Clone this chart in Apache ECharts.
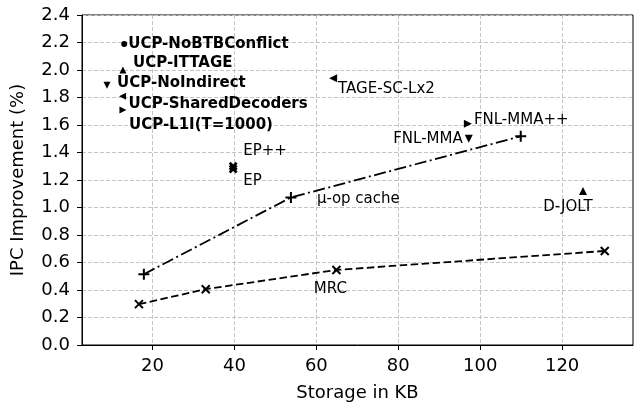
<!DOCTYPE html>
<html>
<head>
<meta charset="utf-8">
<script src="https://cdn.jsdelivr.net/npm/echarts@6/dist/echarts.min.js"></script>
<style>
  html, body { margin: 0; padding: 0; background: #fff; }
  #chart { width: 634px; height: 407px; }
</style>
</head>
<body>
<div id="chart"></div>
<script>
// single design points
const pointNames = ['UCP-NoBTBConflict', 'UCP-ITTAGE', 'UCP-NoIndirect', 'UCP-SharedDecoders', 'UCP-L1I(T=1000)',
  'TAGE-SC-Lx2', 'FNL-MMA++', 'FNL-MMA', 'EP++', 'EP', 'D-JOLT'];
const pointStorage = [13.1, 12.8, 8.9, 12.7, 12.8, 64.1, 97.0, 97.2, 39.7, 39.7, 125.1];
const pointIpc = [2.19, 2.0, 1.89, 1.81, 1.71, 1.94, 1.61, 1.5, 1.3, 1.28, 1.12];

// µ-op cache sweep
const uopStorage = [17.9, 53.8, 109.9];
const uopIpc = [0.515, 1.073, 1.518];

// MRC sweep
const mrcStorage = [16.7, 33.0, 64.9, 130.4];
const mrcIpc = [0.297, 0.406, 0.546, 0.684];

const xTicks = [20, 40, 60, 80, 100, 120];

const FONT = 'DejaVu Sans';

const SYM = {
  dot: 'circle',
  up: 'triangle',
  down: 'path://M0,0L10,0L5,10Z',
  left: 'path://M10,0L10,10L0,5Z',
  right: 'path://M0,0L10,5L0,10Z',
  plus: 'path://M5,0L5,10M0,5L10,5',
  cross: 'path://M0,0L10,10M10,0L0,10',
};

// marker + label placement per point (dx, dy = text anchor offset from marker centre)
const pointStyle = [
  { symbol: SYM.dot, size: 6, dx: 4, dy: 0, align: 'left', bold: true },
  { symbol: SYM.up, size: 7, dx: 10, dy: -7, align: 'left', bold: true },
  { symbol: SYM.down, size: 7, dx: 10, dy: -2, align: 'left', bold: true },
  { symbol: SYM.left, size: 7, dx: 6, dy: 8, align: 'left', bold: true },
  { symbol: SYM.right, size: 7, dx: 6, dy: 15, align: 'left', bold: true },
  { symbol: SYM.left, size: 8, dx: 5, dy: 11, align: 'left' },
  { symbol: SYM.right, size: 8, dx: 6, dy: -4, align: 'left' },
  { symbol: SYM.down, size: 8, dx: -6, dy: 0, align: 'right' },
  { symbol: SYM.cross, size: 7, dx: 10, dy: -15, align: 'left' },
  { symbol: SYM.cross, size: 7, dx: 10, dy: 12, align: 'left' },
  { symbol: SYM.up, size: 8, dx: -15, dy: 16, align: 'center' },
];

const markerSeries = pointNames.map((name, i) => {
  const st = pointStyle[i];
  const isLine = st.symbol === SYM.cross || st.symbol === SYM.plus;
  return {
    name,
    type: 'scatter',
    symbol: st.symbol,
    symbolSize: st.size,
    itemStyle: isLine
      ? { color: 'none', borderColor: '#000', borderWidth: 2.5, opacity: 1 }
      : { color: '#000', borderWidth: 0, opacity: 1 },
    data: [[pointStorage[i], pointIpc[i]]],
    z: 3,
  };
});

const labelSeries = {
  type: 'scatter',
  symbol: 'circle',
  symbolSize: 1,
  itemStyle: { color: 'rgba(0,0,0,0)', opacity: 1 },
  silent: true,
  z: 4,
  data: pointNames.map((name, i) => {
    const st = pointStyle[i];
    return {
      value: [pointStorage[i], pointIpc[i]],
      label: {
        show: true,
        position: 'inside',
        formatter: name,
        align: st.align,
        verticalAlign: 'middle',
        offset: [st.dx, st.dy],
        color: '#000',
        fontFamily: FONT,
        fontSize: 15,
        fontWeight: st.bold ? 'bold' : 'normal',
      },
    };
  }),
};

const lineLabel = (text, dx, dy, align) => ({
  show: true,
  position: 'inside',
  formatter: text,
  align,
  verticalAlign: 'middle',
  offset: [dx, dy],
  color: '#000',
  fontFamily: FONT,
  fontSize: 15,
});

const uopSeries = {
  name: 'µ-op cache',
  type: 'line',
  symbol: SYM.plus,
  symbolSize: 11,
  showSymbol: true,
  itemStyle: { color: 'none', borderColor: '#000', borderWidth: 2 },
  lineStyle: { color: '#000', width: 1.8, type: [12, 3.5, 2, 3.5] },
  data: uopStorage.map((x, i) => i === 1
    ? { value: [x, uopIpc[i]], label: lineLabel('μ-op cache', 26, 2, 'left') }
    : [x, uopIpc[i]]),
  z: 2,
};

const mrcSeries = {
  name: 'MRC',
  type: 'line',
  symbol: SYM.cross,
  symbolSize: 8,
  showSymbol: true,
  itemStyle: { color: 'none', borderColor: '#000', borderWidth: 2 },
  lineStyle: { color: '#000', width: 1.8, type: [7.5, 3.5] },
  data: mrcStorage.map((x, i) => i === 2
    ? { value: [x, mrcIpc[i]], label: lineLabel('MRC', -6, 19, 'center') }
    : [x, mrcIpc[i]]),
  z: 2,
};

const chart = echarts.init(document.getElementById('chart'), null, { renderer: 'canvas' });
chart.setOption({
  animation: false,
  backgroundColor: '#fff',
  grid: {
    left: 82,
    top: 15,
    right: 1,
    bottom: 61,
    show: true,
    borderColor: '#000',
    borderWidth: 1,
  },
  xAxis: {
    type: 'value',
    min: 2.8,
    max: 137.3,
    name: 'Storage in KB',
    nameLocation: 'middle',
    nameGap: 39,
    nameTextStyle: { fontFamily: FONT, fontSize: 18, color: '#000' },
    axisLine: { show: true, lineStyle: { color: '#000', width: 1 } },
    axisTick: { show: true, length: 5, lineStyle: { color: '#000' }, customValues: xTicks },
    axisLabel: { fontFamily: FONT, fontSize: 18, color: '#000', margin: 12, customValues: xTicks },
    splitLine: { show: true, lineStyle: { color: '#c4c4c4', width: 1, type: [4, 2] } },
  },
  yAxis: {
    type: 'value',
    min: 0,
    max: 2.4,
    interval: 0.2,
    name: 'IPC Improvement (%)',
    nameLocation: 'middle',
    nameGap: 55,
    nameTextStyle: { fontFamily: FONT, fontSize: 18, color: '#000' },
    axisLine: { show: true, lineStyle: { color: '#000', width: 1 } },
    axisTick: { show: true, length: 5, lineStyle: { color: '#000' } },
    axisLabel: {
      fontFamily: FONT,
      fontSize: 18,
      color: '#000',
      margin: 12,
      formatter: (v) => v.toFixed(1),
    },
    splitLine: { show: true, lineStyle: { color: '#c4c4c4', width: 1, type: [4, 2] } },
  },
  series: [uopSeries, mrcSeries, ...markerSeries, labelSeries],
});
</script>
</body>
</html>
